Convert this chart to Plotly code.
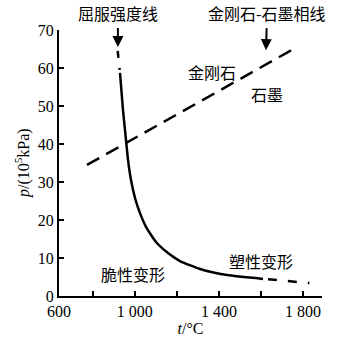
import plotly.graph_objects as go

# Yield strength curve (solid part)
yield_x = [929.9, 944.2, 958.4, 968.0, 982.2, 1001.2, 1025.0, 1053.5, 1101.0, 1158.1, 1215.1, 1310.2, 1438.5, 1609.6]
yield_y = [58.7, 48.9, 41.1, 35.8, 30.5, 25.8, 21.8, 18.2, 14.2, 11.3, 9.2, 7.1, 5.5, 4.5]
# dash-dot top extension
yield_top_x = [919, 930]
yield_top_y = [64.5, 58.7]
# dashed tail extension
yield_tail_x = [1633, 1728, 1830]
yield_tail_y = [4.4, 3.9, 3.4]

# Diamond-graphite phase line
phase_x = [773, 1771]
phase_y = [34.5, 65.5]

x_tickvals = [640, 1000, 1400, 1800]
x_ticktext = ["600", "1 000", "1 400", "1 800"]
x_minor_tickvals = [800, 1200, 1600]
y_tickvals = [0, 10, 20, 30, 40, 50, 60, 70]

serif = "Liberation Serif"
cjk = "Noto Sans CJK SC"

fig = go.Figure()
fig.add_trace(go.Scatter(x=yield_x, y=yield_y, mode="lines",
                         line=dict(color="black", width=2.5, shape="spline", smoothing=0.5)))
fig.add_trace(go.Scatter(x=yield_top_x, y=yield_top_y, mode="lines",
                         line=dict(color="black", width=2.5, dash="7px,10px,2px,40px")))
fig.add_trace(go.Scatter(x=yield_tail_x, y=yield_tail_y, mode="lines",
                         line=dict(color="black", width=2.5, dash="9px,11px,9px,11px,2px,40px")))
fig.add_trace(go.Scatter(x=phase_x, y=phase_y, mode="lines",
                         line=dict(color="black", width=2.5, dash="14px,8px")))

annotations = [
    dict(x=920, y=65.5, xref="x", yref="y", text="屈服强度线", showarrow=True,
         ax=0, ay=-34.5, arrowhead=2, arrowsize=1.1, arrowwidth=2, arrowcolor="black",
         startstandoff=2, font=dict(family=cjk, size=16, color="black")),
    dict(x=1624, y=64.7, xref="x", yref="y", text="金刚石-石墨相线", showarrow=True,
         ax=1, ay=-37.5, arrowhead=2, arrowsize=1.1, arrowwidth=2, arrowcolor="black",
         startstandoff=2, font=dict(family=cjk, size=16, color="black")),
    dict(x=1367, y=59, xref="x", yref="y", text="金刚石", showarrow=False,
         font=dict(family=cjk, size=16, color="black")),
    dict(x=1629, y=53.2, xref="x", yref="y", text="石墨", showarrow=False,
         font=dict(family=cjk, size=16, color="black")),
    dict(x=992, y=5.8, xref="x", yref="y", text="脆性变形", showarrow=False,
         font=dict(family=cjk, size=16, color="black")),
    dict(x=1600, y=9.3, xref="x", yref="y", text="塑性变形", showarrow=False,
         font=dict(family=cjk, size=16, color="black")),
    dict(x=0, y=0.5, xref="paper", yref="paper", xanchor="center", yanchor="middle",
         xshift=-37, textangle=-90, text="<i>p</i>/(10<sup>5</sup>kPa)", showarrow=False,
         font=dict(family=serif, size=16, color="black")),
]

fig.update_layout(
    width=347, height=348,
    margin=dict(l=59, r=25, t=30, b=52),
    paper_bgcolor="white", plot_bgcolor="white",
    showlegend=False,
    annotations=annotations,
    font=dict(family=serif, size=16, color="black"),
)
fig.update_xaxes(range=[640, 1890], tickvals=x_tickvals, ticktext=x_ticktext,
                 ticks="inside", ticklen=5, tickwidth=1.5, tickcolor="black",
                 minor=dict(tickvals=x_minor_tickvals, ticks="inside", ticklen=5,
                            tickwidth=1.5, tickcolor="black", showgrid=False),
                 showline=True, linecolor="black", linewidth=2, showgrid=False, zeroline=False,
                 tickfont=dict(family=serif, size=16),
                 title=dict(text="<i>t</i>/°C", standoff=2, font=dict(family=serif, size=16)))
fig.update_yaxes(range=[0, 70], tickvals=y_tickvals,
                 ticks="inside", ticklen=5, tickwidth=1.5, tickcolor="black",
                 showline=True, linecolor="black", linewidth=2, showgrid=False, zeroline=False,
                 tickfont=dict(family=serif, size=16))

fig.write_html("out.html", config={"displayModeBar": False},
               post_script="document.body.style.margin='0';")
